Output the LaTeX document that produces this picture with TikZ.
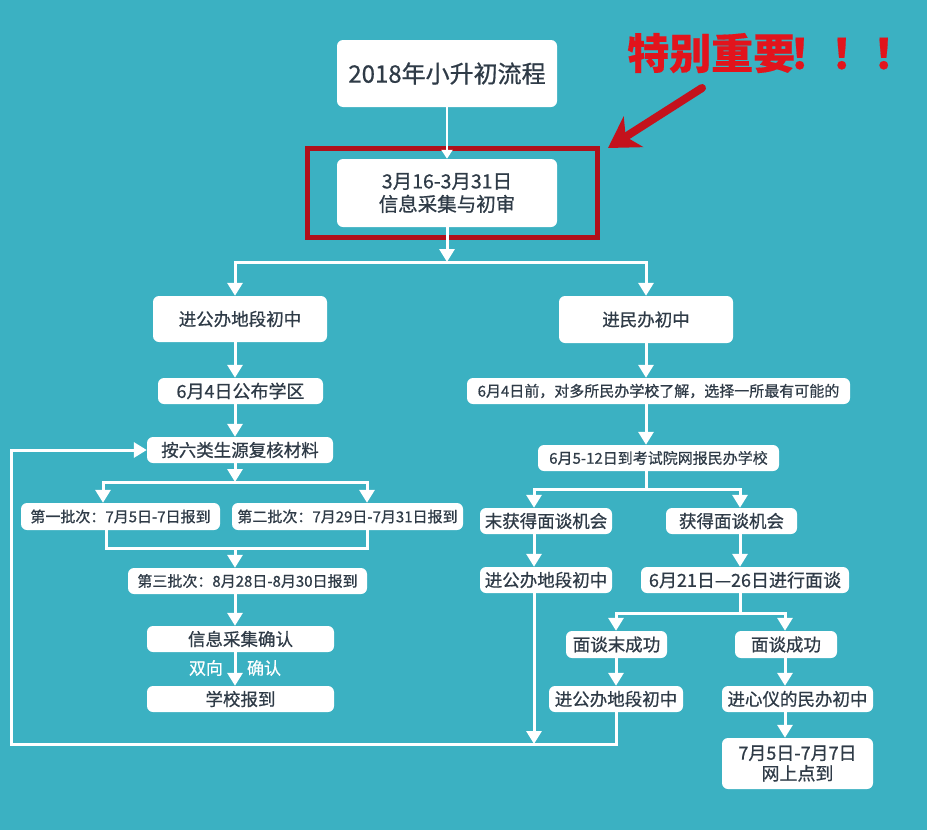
\documentclass[tikz,border=0pt]{standalone}
\usepackage{fontspec}
\setmainfont{Noto Sans CJK SC}[FakeBold=0.7]
\newfontfamily\heavyfont{Noto Sans CJK SC}[FakeBold=0.3]
\usetikzlibrary{arrows.meta,calc}
\definecolor{bg}{RGB}{59,177,194}
\definecolor{txt}{RGB}{47,59,71}
\definecolor{hotred}{RGB}{226,20,28}
\definecolor{framered}{RGB}{176,16,26}
\definecolor{arrred}{RGB}{196,18,28}
\tikzset{
  card/.style={fill=white, rounded corners=6pt, inner sep=0pt, text=txt, align=center},
  fA/.style={font=\fontsize{17.5}{21}\selectfont},
  fB/.style={font=\fontsize{15}{18}\selectfont},
  fC/.style={font=\fontsize{18}{21}\selectfont},
  ln/.style={draw=white, line width=3pt, line cap=rect, line join=miter},
  arr/.style={draw=white, line width=3pt, line join=miter, -{Triangle[length=13pt,width=15pt]}},
  arrsmall/.style={draw=white, line width=2.5pt, -{Triangle[length=9pt,width=11pt]}},
}
\begin{document}
\begin{tikzpicture}[x=1pt,y=-1pt]
\fill[bg] (0,0) rectangle (927,830);
\useasboundingbox (0,0) rectangle (927,830);

% top
\node[card, minimum width=220pt, minimum height=67pt, font=\fontsize{24}{28}\selectfont] (title) at (447,73.5) {2018年小升初流程};
\node[card, minimum width=220pt, minimum height=68pt, font=\fontsize{19.5}{23}\selectfont] (collect) at (447,193) {3月16-3月31日\\信息采集与初审};
\node[draw=framered, line width=5pt, minimum width=290pt, minimum height=89pt, inner sep=0pt] (frame) at (452.5,193) {};
\node[anchor=base west, inner sep=0pt, text=hotred, font=\fontsize{42}{46}\selectfont\heavyfont\bfseries] (warn) at (627,69) {特别重要\hspace{-6pt}！！！};
\coordinate (rtail) at (702,88);
\coordinate (rtip) at (608,148);
\draw[arrred, line width=8pt, line cap=round, -{Stealth[length=30pt,width=36pt,inset=9pt]}] (rtail) -- (rtip);

% left column
\node[card, fA, minimum width=174pt, minimum height=46pt] (pub) at (240,319) {进公办地段初中};
\node[card, fC, minimum width=165pt, minimum height=26pt] (dist) at (240.5,391) {6月4日公布学区};
\node[card, fA, minimum width=186pt, minimum height=26pt] (review) at (240,450) {按六类生源复核材料};
\node[card, fB, minimum width=199pt, minimum height=27pt] (b1) at (120.5,516.5) {第一批次：7月5日-7日报到};
\node[card, fB, minimum width=231pt, minimum height=27pt] (b2) at (347.5,516.5) {第二批次：7月29日-7月31日报到};
\node[card, fB, minimum width=239pt, minimum height=26pt] (b3) at (247.5,581) {第三批次：8月28日-8月30日报到};
\node[card, fA, minimum width=187pt, minimum height=26pt] (conf) at (240.5,639) {信息采集确认};
\node[card, fA, minimum width=187pt, minimum height=26pt] (enrol) at (240.5,699) {学校报到};
\node[text=white, font=\fontsize{17}{20}\selectfont, inner sep=0pt] (lab1) at (206,668) {双向};
\node[text=white, font=\fontsize{17}{20}\selectfont, inner sep=0pt] (lab2) at (264,668) {确认};

% right column
\node[card, fA, minimum width=174pt, minimum height=47pt] (priv) at (646,319.5) {进民办初中};
\node[card, fB, minimum width=383pt, minimum height=26pt] (know) at (658.5,391) {6月4日前，对多所民办学校了解，选择一所最有可能的};
\node[card, fB, minimum width=241pt, minimum height=26pt] (reg) at (658.5,458) {6月5-12日到考试院网报民办学校};
\node[card, fA, minimum width=132pt, minimum height=26pt] (nope) at (546,521) {末获得面谈机会};
\node[card, fA, minimum width=131pt, minimum height=26pt] (got) at (731.5,521) {获得面谈机会};
\node[card, fA, minimum width=132pt, minimum height=26pt] (p1) at (546,580) {进公办地段初中};
\node[card, fC, minimum width=208pt, minimum height=26pt] (intv) at (745,580) {6月21日—26日进行面谈};
\node[card, fA, minimum width=101pt, minimum height=27pt] (fail) at (616.5,644.5) {面谈末成功};
\node[card, fA, minimum width=102pt, minimum height=27pt] (succ) at (786,644.5) {面谈成功};
\node[card, fA, minimum width=134pt, minimum height=26pt] (p2) at (616,699) {进公办地段初中};
\node[card, fA, minimum width=151pt, minimum height=26pt] (pref) at (797.5,699) {进心仪的民办初中};
\node[card, fC, minimum width=151pt, minimum height=51pt, font=\fontsize{18}{20.5}\selectfont] (online) at (797.5,763.5) {7月5日-7月7日\\网上点到};

% coordinates
\coordinate (jTop) at (447,262);
\coordinate (jL) at (235,262);
\coordinate (jR) at (646,262);
\coordinate (s1) at (235,482);
\coordinate (s1L) at (103,482);
\coordinate (s1R) at (367,482);
\coordinate (m1) at (235,548);
\coordinate (m1L) at (106,548);
\coordinate (m1R) at (367,548);
\coordinate (jR2) at (646,489);
\coordinate (sL) at (534,489);
\coordinate (sR) at (740,489);
\coordinate (s3) at (740,613);
\coordinate (s3L) at (616,613);
\coordinate (s3R) at (785,613);
\coordinate (loopC) at (11,744);

% connectors top
\draw[arrsmall] (title.south) -- (collect.north);
\draw[arr] (collect.south) -- (jTop);
\draw[ln] (jL) -- (jR);

% left connectors
\draw[arr] (jL) -- (jL |- pub.north);
\draw[arr] (jL |- pub.south) -- (jL |- dist.north);
\draw[arr] (jL |- dist.south) -- (jL |- review.north);
\draw[arr] (jL |- review.south) -- (s1);
\draw[ln] (s1L) -- (s1R);
\draw[arr] (s1L) -- (s1L |- b1.north);
\draw[arr] (s1R) -- (s1R |- b2.north);
\draw[ln] (m1L |- b1.south) -- (m1L) -- (m1R) -- (m1R |- b2.south);
\draw[arr] (m1) -- (m1 |- b3.north);
\draw[arr] (m1 |- b3.south) -- (m1 |- conf.north);
\draw[arr] (m1 |- conf.south) -- (m1 |- enrol.north);

% right connectors
\draw[arr] (jR) -- (jR |- priv.north);
\draw[arr] (jR |- priv.south) -- (jR |- know.north);
\draw[arr] (jR |- know.south) -- (jR |- reg.north);
\draw[ln] (jR |- reg.south) -- (jR2);
\draw[ln] (sL) -- (sR);
\draw[arr] (sL) -- (sL |- nope.north);
\draw[arr] (sL |- nope.south) -- (sL |- p1.north);
\draw[arr] (sL |- p1.south) -- (sL |- loopC);
\draw[arr] (sR) -- (sR |- got.north);
\draw[arr] (sR |- got.south) -- (sR |- intv.north);
\draw[ln] (sR |- intv.south) -- (s3);
\draw[ln] (s3L) -- (s3R);
\draw[arr] (s3L) -- (s3L |- fail.north);
\draw[arr] (s3L |- fail.south) -- (s3L |- p2.north);
\draw[arr] (s3R) -- (s3R |- succ.north);
\draw[arr] (s3R |- succ.south) -- (s3R |- pref.north);
\draw[arr] (s3R |- pref.south) -- (s3R |- online.north);

% loop back
\draw[arr] (p2.south) |- (loopC) |- (review.west);
\end{tikzpicture}
\end{document}
